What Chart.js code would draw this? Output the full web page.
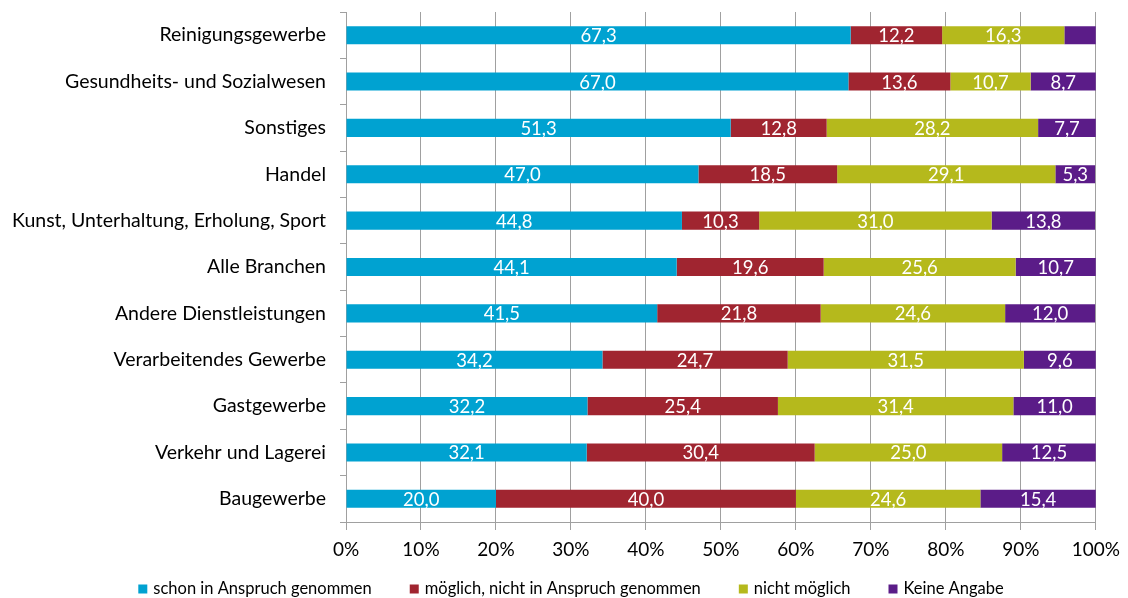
<!DOCTYPE html>
<html>
<head>
<meta charset="utf-8">
<script src="https://cdn.jsdelivr.net/npm/chart.js@4/dist/chart.umd.min.js"></script>
<style>
  html, body { margin: 0; padding: 0; background: #fff; }
  #wrap { width: 1128px; height: 598px; }
</style>
</head>
<body>
<div id="wrap"><canvas id="myChart" width="1128" height="598"></canvas></div>
<script>
// Branchen, top to bottom
const branchen = [
    'Reinigungsgewerbe',
    'Gesundheits- und Sozialwesen',
    'Sonstiges',
    'Handel',
    'Kunst, Unterhaltung, Erholung, Sport',
    'Alle Branchen',
    'Andere Dienstleistungen',
    'Verarbeitendes Gewerbe',
    'Gastgewerbe',
    'Verkehr und Lagerei',
    'Baugewerbe'
];

// shares in percent per answer
const schonGenommen = [67.3, 67.0, 51.3, 47.0, 44.8, 44.1, 41.5, 34.2, 32.2, 32.1, 20.0];
const moeglichNicht = [12.2, 13.6, 12.8, 18.5, 10.3, 19.6, 21.8, 24.7, 25.4, 30.4, 40.0];
const nichtMoeglich = [16.3, 10.7, 28.2, 29.1, 31.0, 25.6, 24.6, 31.5, 31.4, 25.0, 24.6];
const keineAngabe   = [4.2, 8.7, 7.7, 5.3, 13.8, 10.7, 12.0, 9.6, 11.0, 12.5, 15.4];

const xTicks = [0, 10, 20, 30, 40, 50, 60, 70, 80, 90, 100];

const fontFamily = 'Lato, "Open Sans", sans-serif';
const gridColor = '#a0a0a0';

// white value labels in the middle of each segment (small ones are left out)
const valueLabels = {
    id: 'valueLabels',
    afterDatasetsDraw(chart) {
        const ctx = chart.ctx;
        ctx.save();
        ctx.fillStyle = '#ffffff';
        ctx.font = '18.5px ' + fontFamily;
        ctx.textAlign = 'center';
        ctx.textBaseline = 'middle';
        chart.data.datasets.forEach((ds, i) => {
            const meta = chart.getDatasetMeta(i);
            meta.data.forEach((bar, j) => {
                const v = ds.data[j];
                if (v < 5) return;
                const p = bar.getProps(['x', 'y', 'base'], true);
                ctx.fillText(v.toFixed(1).replace('.', ','), (p.x + p.base) / 2, p.y + 1);
            });
        });
        ctx.restore();
    }
};

// one-row legend along the bottom edge with wide gaps between the entries
const bottomLegend = {
    id: 'bottomLegend',
    afterDraw(chart) {
        const ctx = chart.ctx;
        const box = 9, gap = 6, spacing = 38, y = 589;
        ctx.save();
        ctx.font = '16.5px ' + fontFamily;
        ctx.textBaseline = 'middle';
        const items = chart.data.datasets.map(ds => ({
            text: ds.label,
            color: ds.backgroundColor,
            w: box + gap + ctx.measureText(ds.label).width
        }));
        const total = items.reduce((s, it) => s + it.w, 0) + spacing * (items.length - 1);
        let x = (chart.width - total) / 2 + 7;
        items.forEach(it => {
            ctx.fillStyle = it.color;
            ctx.fillRect(x, y - box / 2, box, box);
            ctx.fillStyle = '#000';
            ctx.fillText(it.text, x + box + gap, y);
            x += it.w + spacing;
        });
        ctx.restore();
    }
};

const ctx = document.getElementById('myChart').getContext('2d');
const myChart = new Chart(ctx, {
    type: 'bar',
    data: {
        labels: branchen,
        datasets: [
            { label: 'schon in Anspruch genommen', data: schonGenommen, backgroundColor: '#00a2d1' },
            { label: 'möglich, nicht in Anspruch genommen', data: moeglichNicht, backgroundColor: '#a02530' },
            { label: 'nicht möglich', data: nichtMoeglich, backgroundColor: '#b5b91c' },
            { label: 'Keine Angabe', data: keineAngabe, backgroundColor: '#5b1c88' }
        ]
    },
    options: {
        indexAxis: 'y',
        responsive: false,
        animation: false,
        layout: { padding: { top: 12, right: 32, bottom: 0, left: 0 } },
        datasets: {
            bar: { categoryPercentage: 0.39, barPercentage: 1.0, borderWidth: 0 }
        },
        scales: {
            x: {
                stacked: true,
                min: 0,
                max: 100,
                afterBuildTicks: scale => { scale.ticks = xTicks.map(v => ({ value: v })); },
                afterFit: scale => { scale.height = 76; },
                ticks: {
                    callback: v => v + '%',
                    color: '#000',
                    font: { family: fontFamily, size: 19 },
                    padding: 8
                },
                grid: { color: gridColor, lineWidth: 1, tickLength: 8 },
                border: { display: true, color: gridColor }
            },
            y: {
                stacked: true,
                afterFit: scale => {
                    scale.width = 346;
                    // labels sit between the ticks, so no room is needed above or below
                    scale.paddingTop = 0;
                    scale.paddingBottom = 0;
                },
                ticks: {
                    color: '#000',
                    font: { family: fontFamily, size: 19.5 },
                    padding: 14
                },
                grid: { drawOnChartArea: false, color: gridColor, tickLength: 6, offset: true },
                border: { display: true, color: gridColor }
            }
        },
        plugins: {
            legend: { display: false },
            tooltip: { enabled: false }
        }
    },
    plugins: [valueLabels, bottomLegend]
});
</script>
</body>
</html>
